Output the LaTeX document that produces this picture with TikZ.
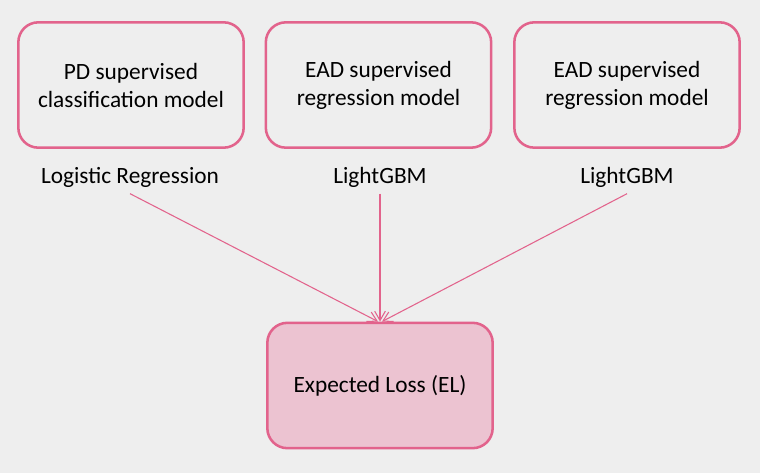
\documentclass[tikz,border=0pt]{standalone}
\usepackage{fontspec}
\setmainfont{Carlito}
\usetikzlibrary{arrows.meta,positioning}
\definecolor{bgGray}{HTML}{EEEEEE}
\definecolor{modelPink}{HTML}{E2638C}
\definecolor{elFill}{HTML}{ECC3D1}
\tikzset{
  modelbox/.style = {draw = modelPink, line width = 1.9pt, rounded corners = 15pt,
    minimum width = 169pt, minimum height = 94pt, align = center, font = \fontsize{17.5}{21}\selectfont},
  algo/.style = {font = \fontsize{17.5}{21}\selectfont, inner sep = 1pt},
  feed/.style = {draw = modelPink, line width = .8pt, -{Straight Barb[length=7pt,width=8pt]}}
}
\begin{document}
\begin{tikzpicture}[x = .75pt, y = -.75pt]
\fill[bgGray] (0,0) rectangle (760,473);
\useasboundingbox (0,0) rectangle (760,473);

\node[modelbox] (pd) at (131,85) {PD supervised\\classification model};
\node[modelbox] (eadA) at (378.5,85) {EAD supervised\\regression model};
\node[modelbox] (eadB) at (627,85) {EAD supervised\\regression model};

\node[algo] (lr) at (130,177) {Logistic Regression};
\node[algo] (gbmA) at (380,177) {LightGBM};
\node[algo] (gbmB) at (627,177) {LightGBM};

\node[modelbox, fill = elFill] (el) at (380,385.5) {Expected Loss (EL)};

\draw[feed] (lr.south) ++(0,5) -- ([xshift = -1.5pt]el.north);
\draw[feed] (gbmA.south) ++(0,5) -- (el.north);
\draw[feed] (gbmB.south) ++(0,5) -- ([xshift = 1.5pt]el.north);
\end{tikzpicture}
\end{document}
